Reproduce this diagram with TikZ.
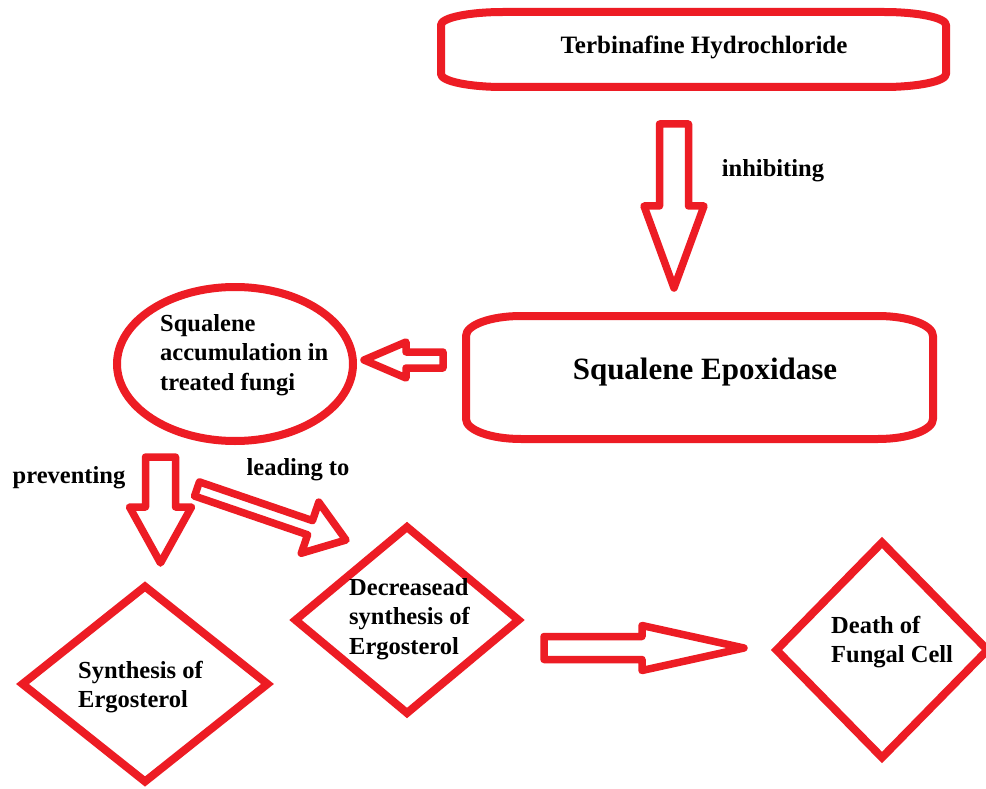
\documentclass[tikz,border=0pt]{standalone}
\usepackage{fontspec}
\setmainfont{Liberation Serif}
\usetikzlibrary{shapes.geometric,calc}
\definecolor{pred}{HTML}{ED1C24}
% #1 name, #2 tail coordinate, #3 tip coordinate, #4 shaft half width, #5 head half width, #6 head length
\newcommand{\blockarrow}[6]{%
  \coordinate (#1-hb) at ($(#3)!#6!(#2)$);
  \draw[blockarr] ($(#2)!#4!90:(#3)$) -- ($(#1-hb)!#4!90:(#3)$) -- ($(#1-hb)!#5!90:(#3)$)
    -- (#3) -- ($(#1-hb)!#5!-90:(#3)$) -- ($(#1-hb)!#4!-90:(#3)$) -- ($(#2)!#4!-90:(#3)$) -- cycle;
}
% #1 node name, #2 corner x radius, #3 corner y radius
\newcommand{\ovalframe}[3]{%
  \draw[frame] ($(#1.north west)+(#2,0)$) -- ($(#1.north east)+(-#2,0)$)
    arc[start angle=-90, end angle=0, x radius=#2, y radius=#3]
    -- ($(#1.south east)+(0,-#3)$)
    arc[start angle=0, end angle=90, x radius=#2, y radius=#3]
    -- ($(#1.south west)+(#2,0)$)
    arc[start angle=90, end angle=180, x radius=#2, y radius=#3]
    -- ($(#1.north west)+(0,#3)$)
    arc[start angle=180, end angle=270, x radius=#2, y radius=#3]
    -- cycle;
}
\begin{document}
\begin{tikzpicture}[x=1pt, y=-1pt,
  frame/.style={draw=pred, line width=8pt, line join=round},
  blockarr/.style={draw=pred, line width=7.5pt, line join=round},
  dia/.style={draw=pred, line width=8pt, diamond, inner sep=0pt, outer sep=0pt, line join=miter},
  boxnode/.style={rectangle, inner sep=0pt, outer sep=0pt},
  lbl/.style={font=\fontsize{24.5}{29.5}\selectfont\bfseries, inner sep=0pt, text=black},
  biglbl/.style={font=\fontsize{31}{36}\selectfont\bfseries, inner sep=0pt, text=black}]
\useasboundingbox (0,0) rectangle (986,789);
\fill[white] (0,0) rectangle (986,789);

% boxes
\node[boxnode, minimum width=505pt, minimum height=75pt] (terb) at (693.5,49.5) {};
\ovalframe{terb}{62}{13}
\node[lbl, font=\fontsize{25}{30}\selectfont\bfseries] (terbt) at (704,47) {Terbinafine Hydrochloride};

\node[boxnode, minimum width=467pt, minimum height=123pt] (epox) at (699.5,377.5) {};
\ovalframe{epox}{55}{20}
\node[biglbl] (epoxt) at (705,372) {Squalene Epoxidase};

% ellipse
\node[ellipse, draw=pred, line width=8pt, minimum width=236pt, minimum height=154pt, inner sep=0pt, outer sep=0pt] (accum) at (235,364) {};
\node[lbl, align=left, anchor=west] (accumt) at (160,355) {Squalene\\accumulation in\\treated fungi};

% diamonds
\node[dia, minimum width=245pt, minimum height=195pt] (synth) at (145,684) {};
\node[lbl, align=left, anchor=west] (syntht) at (78,687) {Synthesis of\\Ergosterol};

\node[dia, minimum width=223pt, minimum height=186pt] (decr) at (407,620) {};
\node[lbl, align=left, anchor=west] (decrt) at (349,619) {Decreasead\\synthesis of\\Ergosterol};

\node[dia, minimum width=211pt, minimum height=215pt] (death) at (882,650) {};
\node[lbl, align=left, anchor=west] (deatht) at (831,642) {Death of\\Fungal Cell};

% arrow end points
\coordinate (a1s) at ($(terb.south)+(-19.5,37)$);
\coordinate (a1e) at ($(epox.north)+(-25.5,-28)$);
\coordinate (a2s) at ($(epox.west)+(-23,-17.5)$);
\coordinate (a2e) at ($(accum.east)+(11,-4)$);
\coordinate (a3s) at ($(accum.south)+(-74.5,16)$);
\coordinate (a3e) at ($(synth.north)+(15.5,-23.5)$);
\coordinate (a4s) at ($(accum.south)+(-38,48)$);
\coordinate (a4e) at ($(decr.north)+(-61,13)$);
\coordinate (a5s) at ($(decr.east)+(25.5,28)$);
\coordinate (a5e) at ($(death.west)+(-32.5,-2)$);

\blockarrow{a1}{a1s}{a1e}{14.5pt}{30pt}{82pt}
\blockarrow{a2}{a2s}{a2e}{8pt}{18pt}{42pt}
\blockarrow{a3}{a3s}{a3e}{15pt}{31pt}{56pt}
\blockarrow{a4}{a4s}{a4e}{7.5pt}{27pt}{38pt}
\blockarrow{a5}{a5s}{a5e}{11.5pt}{22.5pt}{102pt}

% connector labels
\node[lbl] (inh) at (773,171) {inhibiting};
\node[lbl] (prev) at (69,478) {preventing};
\node[lbl] (lead) at (298,470) {leading to};
\end{tikzpicture}
\end{document}
